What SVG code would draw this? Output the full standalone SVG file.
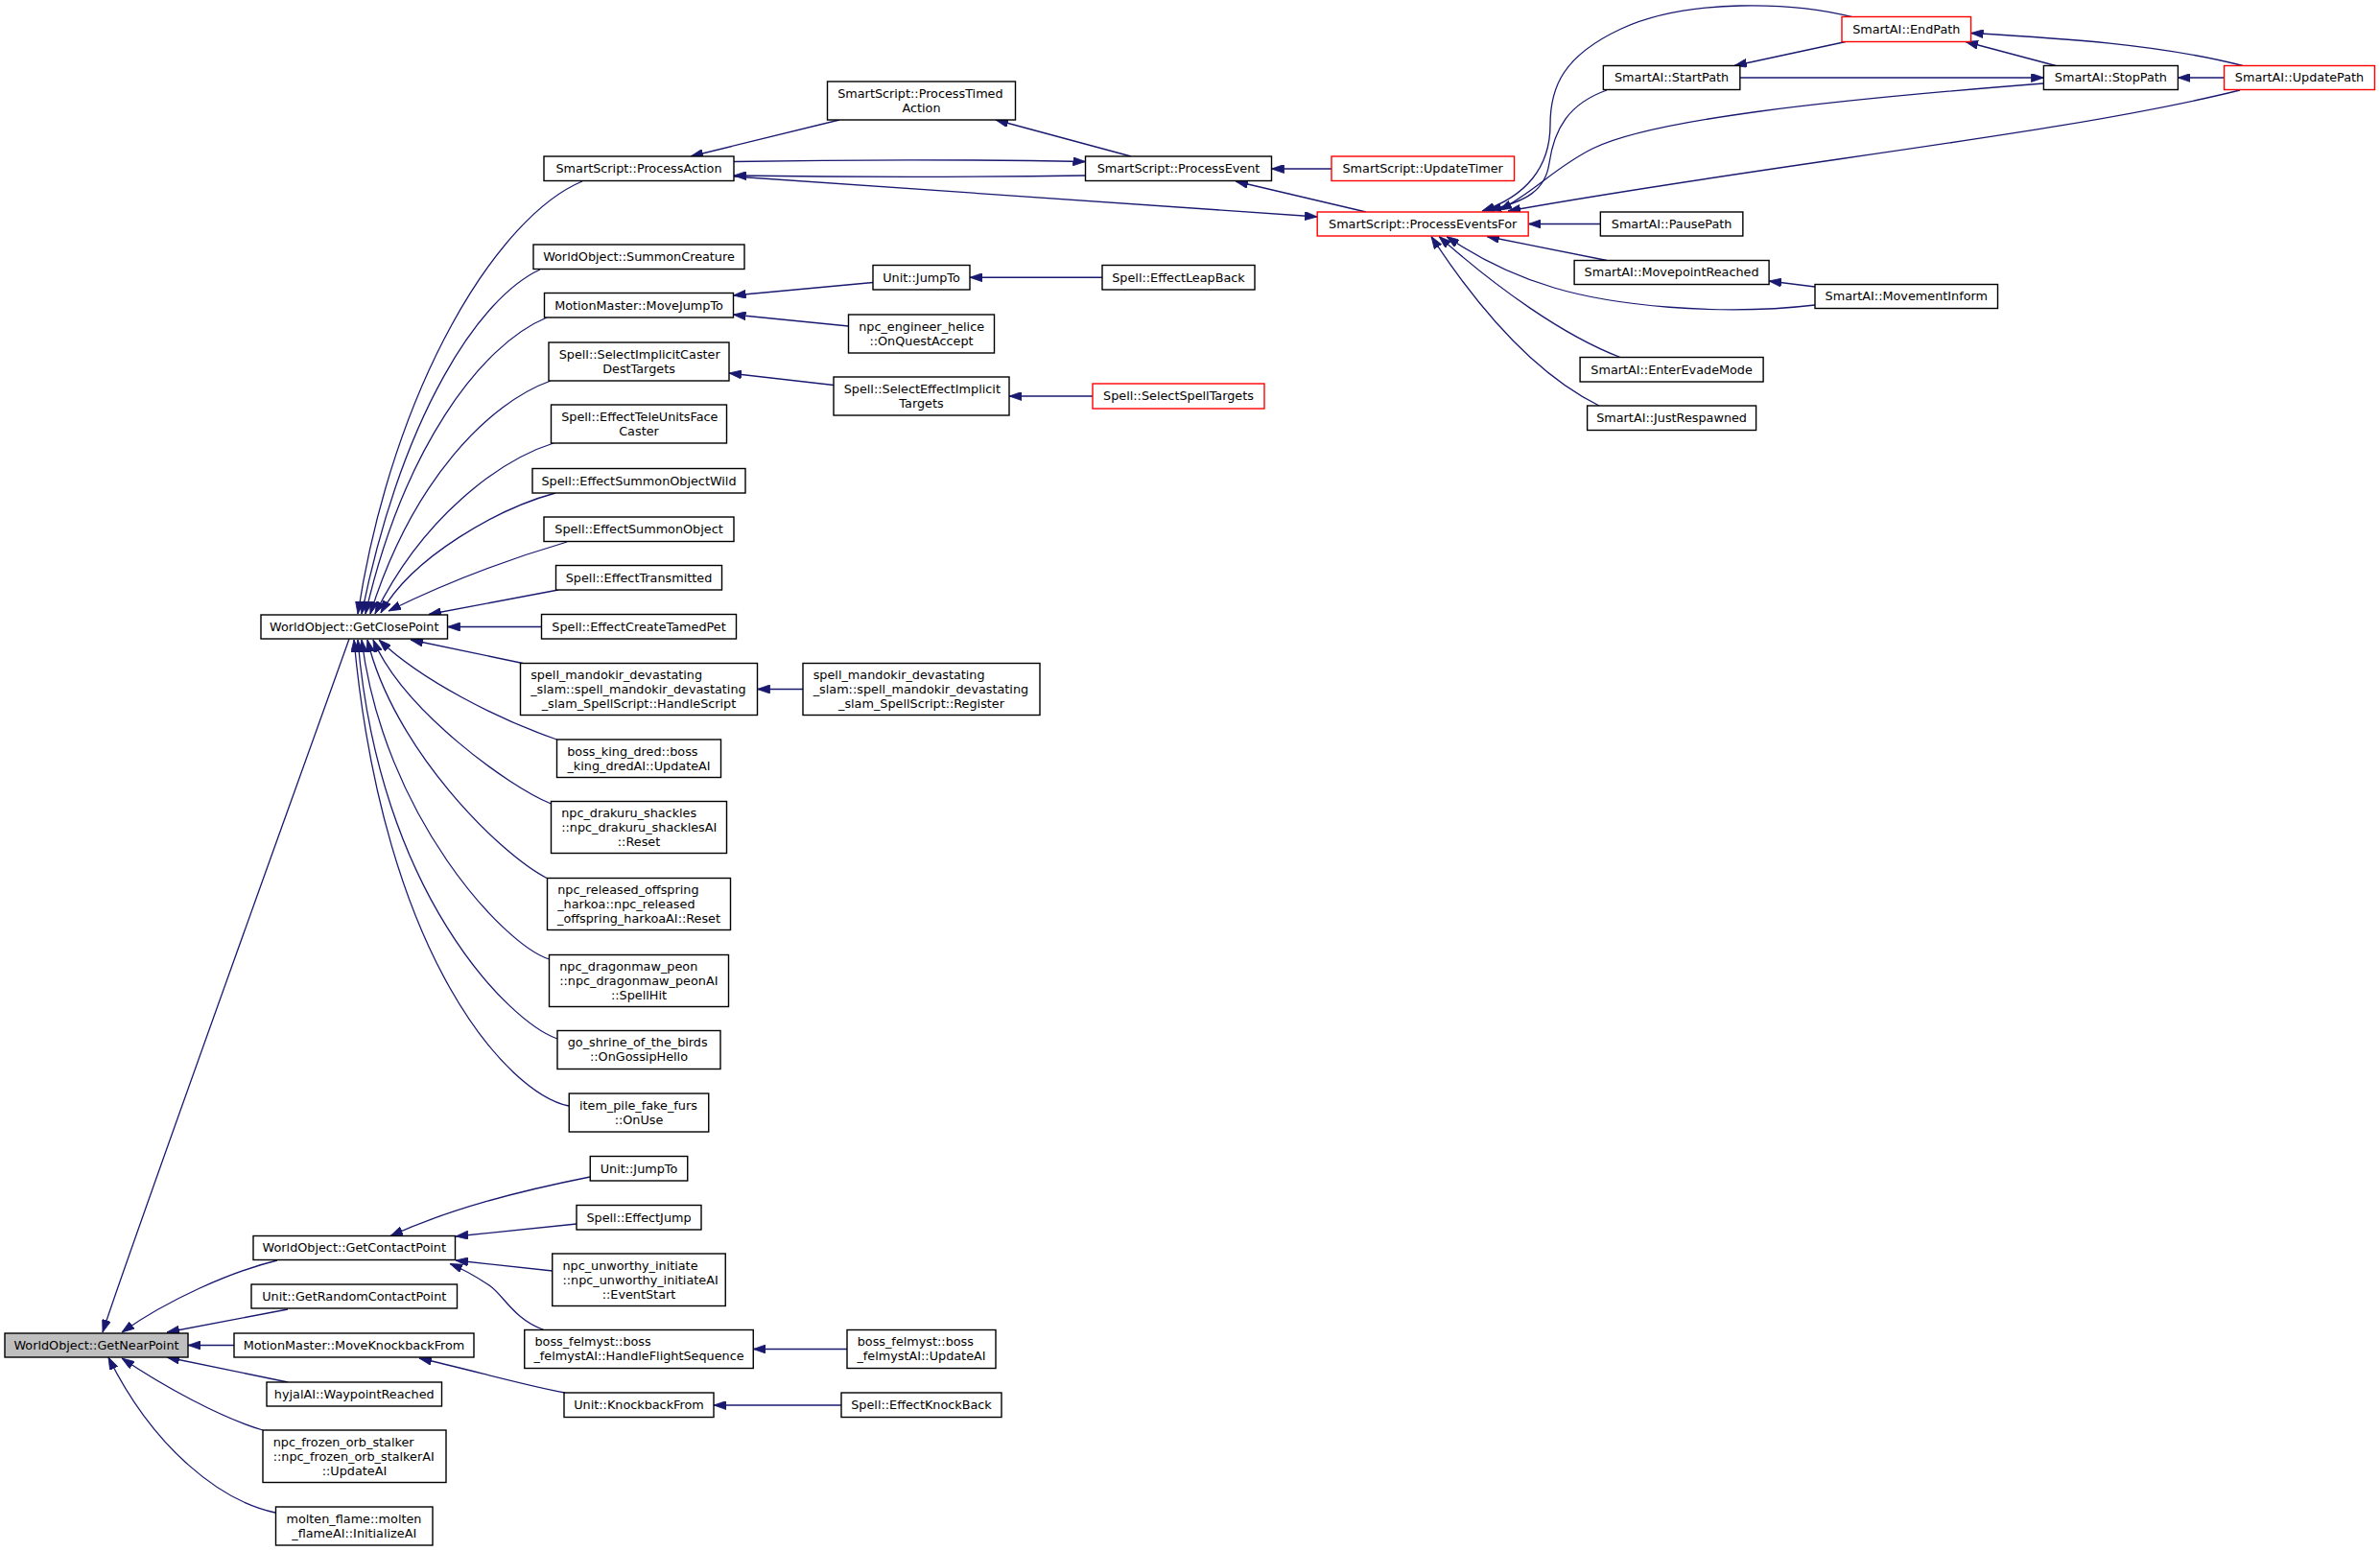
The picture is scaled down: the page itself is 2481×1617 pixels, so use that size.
<svg xmlns="http://www.w3.org/2000/svg" width="2481" height="1617" viewBox="0 0 2481 1617">
<style>
.n rect{fill:#fff;stroke:#000;stroke-width:1.4}
.n.r rect{stroke:#f00}
.n.g rect{fill:#bfbfbf}
text{font-family:"DejaVu Sans","Liberation Sans",sans-serif;font-size:12.8px;fill:#000}
.c{text-anchor:middle}
.e path{fill:none;stroke:#191970;stroke-width:1.3;marker-end:url(#ah)}
</style>
<defs>
<marker id="ah" viewBox="0 0 13 9" refX="13" refY="4.5" markerWidth="13" markerHeight="9" markerUnits="userSpaceOnUse" orient="auto"><path d="M0,0 L13,4.5 L0,9 z" fill="#191970" stroke="#191970" stroke-width="0.8"/></marker>
</defs>
<rect x="0" y="0" width="2481" height="1617" fill="#fff"/>
<g id="edges" class="e">
<path d="M364,666 C343,726 136,1299 107,1389"/>
<path d="M289,1314 C240,1326 175,1355 127,1389"/>
<path d="M300,1365 L174,1389"/>
<path d="M244,1402.5 L196,1402.5"/>
<path d="M300,1441 L174,1415"/>
<path d="M274,1491 C230,1478 170,1445 127,1416"/>
<path d="M287,1577 C230,1565 160,1510 113,1415"/>
<path d="M607,189 C520,225 410,400 373,640"/>
<path d="M563,281 C500,310 420,430 377,640"/>
<path d="M570,331 C500,360 420,470 381,640"/>
<path d="M574,397 C510,420 430,500 386,640"/>
<path d="M577,462 C520,480 440,540 391,640"/>
<path d="M579,514 C520,530 430,580 397,639"/>
<path d="M591,565 C540,580 470,605 405,637"/>
<path d="M582,615 L447,640.5"/>
<path d="M564.5,653.5 L466.5,653.5"/>
<path d="M545,691.5 L428,667"/>
<path d="M580.5,771 C520,750 440,710 395,667"/>
<path d="M574.5,838 C530,820 420,740 389,667"/>
<path d="M571,916 C520,890 410,780 383,667"/>
<path d="M572.5,1000 C525,985 400,850 377,667"/>
<path d="M581,1083 C530,1065 395,930 373,667"/>
<path d="M593,1153 C530,1140 400,1000 369,667"/>
<path d="M615,1227 C540,1242 470,1260 407,1288.5"/>
<path d="M601,1276 L475,1289"/>
<path d="M576,1325 L475,1314"/>
<path d="M567,1386.5 C535,1375 525,1350 510,1340 C495,1330 485,1324 469,1317.5"/>
<path d="M589,1452 C550,1445 490,1428 437,1416"/>
<path d="M875,125 L720,163"/>
<path d="M765,168.5 C900,166 1000,166 1131.5,168.5"/>
<path d="M1131.5,183 C1000,185 900,185 765,183"/>
<path d="M765,184 L1373.2,226"/>
<path d="M910,294.5 L764.5,308"/>
<path d="M884.5,340 L764.5,328"/>
<path d="M869,401.5 L760,389"/>
<path d="M1149,289.25 L1011,289.25"/>
<path d="M1139,413 L1052,413"/>
<path d="M837,718.5 L789.5,718.5"/>
<path d="M883,1406.5 L785.25,1406.5"/>
<path d="M877,1465 L744,1465"/>
<path d="M1179,163 L1038,125"/>
<path d="M1388,176 L1325.5,176"/>
<path d="M1424,221 L1288,189"/>
<path d="M1932,18 C1870,2 1760,-2 1690,30 C1630,58 1616,90 1616,130 C1616,175 1590,205 1545,220"/>
<path d="M1675,94 C1635,108 1620,135 1615,170 C1611,198 1592,210 1552,219"/>
<path d="M2130,87 C1900,105 1720,125 1660,155 C1620,175 1600,200 1563,219"/>
<path d="M2335,94 C2150,140 1850,170 1572,220"/>
<path d="M1668,233.5 L1593.3,233.5"/>
<path d="M1675,271.5 L1550,246.5"/>
<path d="M1892,318 C1790,330 1680,318 1620,300 C1570,285 1535,265 1508,246.5"/>
<path d="M1689,372.5 C1630,350 1560,300 1500,246.5"/>
<path d="M1667,423 C1600,390 1540,320 1492,246.5"/>
<path d="M1924,43.5 L1808,68.5"/>
<path d="M1814,81 L2130.4,81"/>
<path d="M2143,68.5 L2049,43.5"/>
<path d="M2338,68.5 C2250,46 2150,40 2054.6,34.5"/>
<path d="M2318.5,81 L2270.4,81"/>
<path d="M1892,299 L1844,293"/>
</g>
<g id="n1" class="n g"><rect x="5" y="1390" width="191" height="25"/><text class="c" x="100.5" y="1406.9">WorldObject::GetNearPoint</text></g>
<g id="n2" class="n"><rect x="272" y="641" width="194.5" height="25"/><text class="c" x="369.25" y="657.9">WorldObject::GetClosePoint</text></g>
<g id="n3" class="n"><rect x="264" y="1288.5" width="210.5" height="25"/><text class="c" x="369.25" y="1305.4">WorldObject::GetContactPoint</text></g>
<g id="n4" class="n"><rect x="262" y="1339" width="214.5" height="25"/><text class="c" x="369.25" y="1355.9">Unit::GetRandomContactPoint</text></g>
<g id="n5" class="n"><rect x="244" y="1390" width="250" height="25"/><text class="c" x="369" y="1406.9">MotionMaster::MoveKnockbackFrom</text></g>
<g id="n6" class="n"><rect x="278" y="1441" width="182.5" height="25"/><text class="c" x="369.25" y="1457.9">hyjalAI::WaypointReached</text></g>
<g id="n7" class="n"><rect x="274" y="1491" width="191" height="54.5"/><text x="284.7" y="1507.65">npc_frozen_orb_stalker</text><text x="284.7" y="1522.65">::npc_frozen_orb_stalkerAI</text><text class="c" x="369.5" y="1537.65">::UpdateAI</text></g>
<g id="n8" class="n"><rect x="287.5" y="1571" width="163.5" height="40"/><text x="298.5" y="1587.9">molten_flame::molten</text><text class="c" x="369.25" y="1602.9">_flameAI::InitializeAI</text></g>
<g id="n9" class="n"><rect x="567" y="163" width="198" height="25.5"/><text class="c" x="666" y="180.15">SmartScript::ProcessAction</text></g>
<g id="n10" class="n"><rect x="556" y="255" width="220" height="25.5"/><text class="c" x="666" y="272.15">WorldObject::SummonCreature</text></g>
<g id="n11" class="n"><rect x="567.5" y="305.5" width="197" height="25.5"/><text class="c" x="666" y="322.65">MotionMaster::MoveJumpTo</text></g>
<g id="n12" class="n"><rect x="572" y="357" width="188" height="40"/><text x="582.7" y="373.9">Spell::SelectImplicitCaster</text><text class="c" x="666" y="388.9">DestTargets</text></g>
<g id="n13" class="n"><rect x="574.5" y="422" width="183" height="40"/><text x="585.2" y="438.9">Spell::EffectTeleUnitsFace</text><text class="c" x="666" y="453.9">Caster</text></g>
<g id="n14" class="n"><rect x="555" y="488.5" width="222" height="25.5"/><text class="c" x="666" y="505.65">Spell::EffectSummonObjectWild</text></g>
<g id="n15" class="n"><rect x="567" y="539" width="198" height="25.5"/><text class="c" x="666" y="556.15">Spell::EffectSummonObject</text></g>
<g id="n16" class="n"><rect x="579.5" y="589.5" width="173" height="25.5"/><text class="c" x="666" y="606.65">Spell::EffectTransmitted</text></g>
<g id="n17" class="n"><rect x="564.5" y="640.5" width="203" height="25.5"/><text class="c" x="666" y="657.65">Spell::EffectCreateTamedPet</text></g>
<g id="n18" class="n"><rect x="542.5" y="691.5" width="247" height="54"/><text x="553.2" y="707.9">spell_mandokir_devastating</text><text x="553.2" y="722.9">_slam::spell_mandokir_devastating</text><text class="c" x="666" y="737.9">_slam_SpellScript::HandleScript</text></g>
<g id="n19" class="n"><rect x="580.5" y="771" width="171" height="39.5"/><text x="591.2" y="787.65">boss_king_dred::boss</text><text class="c" x="666" y="802.65">_king_dredAI::UpdateAI</text></g>
<g id="n20" class="n"><rect x="574.5" y="835.5" width="183" height="54"/><text x="585.2" y="851.9">npc_drakuru_shackles</text><text x="585.2" y="866.9">::npc_drakuru_shacklesAI</text><text class="c" x="666" y="881.9">::Reset</text></g>
<g id="n21" class="n"><rect x="570.5" y="915.5" width="191" height="54"/><text x="581.2" y="931.9">npc_released_offspring</text><text x="581.2" y="946.9">_harkoa::npc_released</text><text class="c" x="666" y="961.9">_offspring_harkoaAI::Reset</text></g>
<g id="n22" class="n"><rect x="572.5" y="995.5" width="187" height="54"/><text x="583.2" y="1011.9">npc_dragonmaw_peon</text><text x="583.2" y="1026.9">::npc_dragonmaw_peonAI</text><text class="c" x="666" y="1041.9">::SpellHit</text></g>
<g id="n23" class="n"><rect x="581" y="1074.5" width="170" height="40"/><text x="591.7" y="1091.4">go_shrine_of_the_birds</text><text class="c" x="666" y="1106.4">::OnGossipHello</text></g>
<g id="n24" class="n"><rect x="593.25" y="1140" width="145.5" height="40"/><text x="603.95" y="1156.9">item_pile_fake_furs</text><text class="c" x="666" y="1171.9">::OnUse</text></g>
<g id="n25" class="n"><rect x="615.25" y="1205.5" width="101.5" height="25.5"/><text class="c" x="666" y="1222.65">Unit::JumpTo</text></g>
<g id="n26" class="n"><rect x="601" y="1256.5" width="130" height="25.5"/><text class="c" x="666" y="1273.65">Spell::EffectJump</text></g>
<g id="n27" class="n"><rect x="575.75" y="1307" width="180.5" height="54.5"/><text x="586.45" y="1323.65">npc_unworthy_initiate</text><text x="586.45" y="1338.65">::npc_unworthy_initiateAI</text><text class="c" x="666" y="1353.65">::EventStart</text></g>
<g id="n28" class="n"><rect x="546.75" y="1386.5" width="238.5" height="40"/><text x="557.45" y="1403.4">boss_felmyst::boss</text><text class="c" x="666" y="1418.4">_felmystAI::HandleFlightSequence</text></g>
<g id="n29" class="n"><rect x="588" y="1452" width="156" height="25.5"/><text class="c" x="666" y="1469.15">Unit::KnockbackFrom</text></g>
<g id="n30" class="n"><rect x="862.5" y="85" width="196" height="40"/><text x="873.2" y="101.9">SmartScript::ProcessTimed</text><text class="c" x="960.5" y="116.9">Action</text></g>
<g id="n31" class="n"><rect x="910" y="276.5" width="101" height="25.5"/><text class="c" x="960.5" y="293.65">Unit::JumpTo</text></g>
<g id="n32" class="n"><rect x="884.5" y="328" width="152" height="40"/><text x="895.2" y="344.9">npc_engineer_helice</text><text class="c" x="960.5" y="359.9">::OnQuestAccept</text></g>
<g id="n33" class="n"><rect x="869" y="393" width="183" height="40"/><text x="879.7" y="409.9">Spell::SelectEffectImplicit</text><text class="c" x="960.5" y="424.9">Targets</text></g>
<g id="n34" class="n"><rect x="837" y="691.5" width="247" height="54"/><text x="847.7" y="707.9">spell_mandokir_devastating</text><text x="847.7" y="722.9">_slam::spell_mandokir_devastating</text><text class="c" x="960.5" y="737.9">_slam_SpellScript::Register</text></g>
<g id="n35" class="n"><rect x="883" y="1386.5" width="155" height="40"/><text x="893.7" y="1403.4">boss_felmyst::boss</text><text class="c" x="960.5" y="1418.4">_felmystAI::UpdateAI</text></g>
<g id="n36" class="n"><rect x="877" y="1452" width="167" height="25.5"/><text class="c" x="960.5" y="1469.15">Spell::EffectKnockBack</text></g>
<g id="n37" class="n"><rect x="1131.5" y="163" width="194" height="25.5"/><text class="c" x="1228.5" y="180.15">SmartScript::ProcessEvent</text></g>
<g id="n38" class="n"><rect x="1149" y="276.5" width="159" height="25.5"/><text class="c" x="1228.5" y="293.65">Spell::EffectLeapBack</text></g>
<g id="n39" class="n r"><rect x="1139" y="400" width="179" height="26"/><text class="c" x="1228.5" y="417.4">Spell::SelectSpellTargets</text></g>
<g id="n40" class="n r"><rect x="1388" y="163" width="190.5" height="25.5"/><text class="c" x="1483.2" y="180.15">SmartScript::UpdateTimer</text></g>
<g id="n41" class="n r"><rect x="1373.2" y="221" width="220" height="25"/><text class="c" x="1483.2" y="237.9">SmartScript::ProcessEventsFor</text></g>
<g id="n42" class="n"><rect x="1671.35" y="68.5" width="142.5" height="25"/><text class="c" x="1742.6" y="85.4">SmartAI::StartPath</text></g>
<g id="n43" class="n"><rect x="1668.35" y="221" width="148.5" height="25"/><text class="c" x="1742.6" y="237.9">SmartAI::PausePath</text></g>
<g id="n44" class="n"><rect x="1641.1" y="271.5" width="203" height="25"/><text class="c" x="1742.6" y="288.4">SmartAI::MovepointReached</text></g>
<g id="n45" class="n"><rect x="1647.1" y="372.5" width="191" height="25.5"/><text class="c" x="1742.6" y="389.65">SmartAI::EnterEvadeMode</text></g>
<g id="n46" class="n"><rect x="1654.6" y="423" width="176" height="25.5"/><text class="c" x="1742.6" y="440.15">SmartAI::JustRespawned</text></g>
<g id="n47" class="n r"><rect x="1920" y="17.5" width="134.5" height="26"/><text class="c" x="1987.3" y="34.9">SmartAI::EndPath</text></g>
<g id="n48" class="n"><rect x="1892" y="296.5" width="190.5" height="25"/><text class="c" x="1987.3" y="313.4">SmartAI::MovementInform</text></g>
<g id="n49" class="n"><rect x="2130.4" y="68.5" width="140" height="25"/><text class="c" x="2200.4" y="85.4">SmartAI::StopPath</text></g>
<g id="n50" class="n r"><rect x="2318.5" y="68.5" width="157" height="25"/><text class="c" x="2397" y="85.4">SmartAI::UpdatePath</text></g>
</svg>
